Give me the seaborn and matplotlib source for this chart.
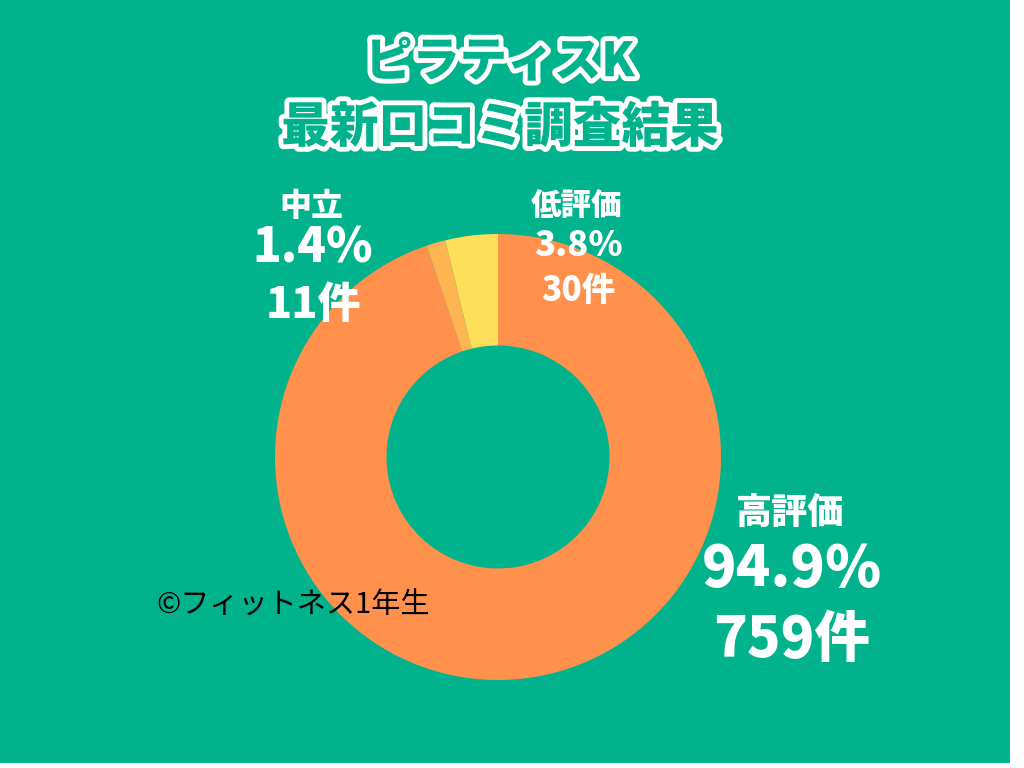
import matplotlib
matplotlib.use('Agg')
import matplotlib.pyplot as plt
import matplotlib.patheffects as pe
import seaborn as sns

# data
labels = ['高評価', '中立', '低評価']
percents = [94.9, 1.4, 3.8]
counts = [759, 11, 30]
colors = ['#FF914D', '#FFB452', '#FFDE59']

title_lines = ['ピラティスK', '最新口コミ調査結果']
credit = '©フィットネス1年生'

sns.set_theme(style='white')
plt.rcParams['font.family'] = ['Noto Sans CJK JP', 'DejaVu Sans']

bg = '#00B38C'
fig = plt.figure(figsize=(10.24, 7.68), dpi=100)
fig.patch.set_facecolor('white')

# green panel (image has a thin white margin on the right and bottom)
panel = fig.add_axes([0, 5 / 768, 1010 / 1024, 763 / 768])
panel.set_facecolor(bg)
panel.set_xticks([])
panel.set_yticks([])
for s in panel.spines.values():
    s.set_visible(False)

# donut
cx, cy, r = 498, 457, 223
ax = fig.add_axes([(cx - r) / 1024, (768 - cy - r) / 768, 2 * r / 1024, 2 * r / 768])
ax.pie(percents, colors=colors, startangle=90, counterclock=False,
       wedgeprops=dict(width=0.5, edgecolor='none'))
ax.set_xlim(-1, 1)
ax.set_ylim(-1, 1)
ax.axis('off')

def px(x, y):
    return x / 1024, 1 - y / 768

# title with white outline
outline = [pe.Stroke(linewidth=7, foreground='white'), pe.Normal()]
fig.text(*px(500, 62), title_lines[0], color=bg, fontsize=34, fontweight='black',
         ha='center', va='center', path_effects=outline)
fig.text(*px(500, 128), title_lines[1], color=bg, fontsize=35, fontweight='black',
         ha='center', va='center', path_effects=outline)

# labels: (name pos, pct pos, count pos, sizes)
label_layout = {
    '中立': ((311, 206), (313, 248), (313, 305), (23, 34, 31)),
    '低評価': ((577, 206), (578, 246), (578, 291), (22, 25, 24)),
    '高評価': ((790, 513), (792, 570), (792, 640), (26, 41, 40)),
}
for name, pct, cnt in zip(labels, percents, counts):
    p1, p2, p3, (s1, s2, s3) = label_layout[name]
    fig.text(*px(*p1), name, color='white', fontsize=s1, fontweight='black',
             ha='center', va='center')
    fig.text(*px(*p2), f'{pct}%', color='white', fontsize=s2, fontweight='black',
             ha='center', va='center')
    fig.text(*px(*p3), f'{cnt}件', color='white', fontsize=s3, fontweight='black',
             ha='center', va='center')

fig.text(*px(156, 605), credit, color='black', fontsize=21, ha='left', va='center')

fig.savefig('out.png', dpi=100, facecolor='white')
